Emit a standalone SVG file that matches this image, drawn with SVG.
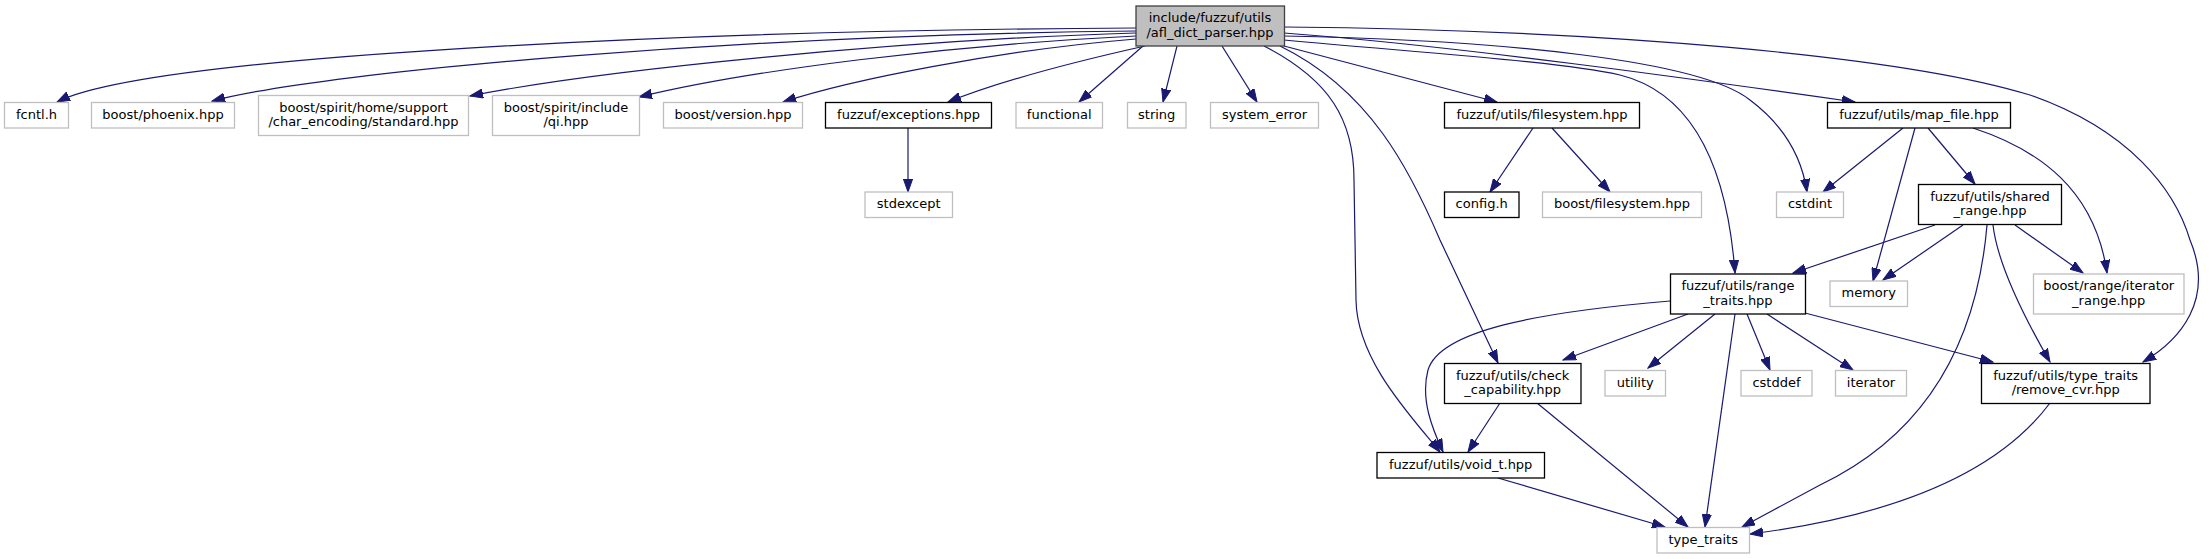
<svg xmlns="http://www.w3.org/2000/svg" width="2209" height="559" viewBox="0 0 2209 559">
<style>
.n rect{fill:#ffffff;stroke:#bfbfbf;stroke-width:1.3}
.n.k rect{stroke:#000000}
.n.root rect{fill:#bfbfbf;stroke:#404040}
text{font-family:"DejaVu Sans","Liberation Sans",sans-serif;font-size:13px;fill:#000;text-anchor:middle}
#edges path{fill:none;stroke:#191970;stroke-width:1.2;marker-end:url(#arr)}
</style>
<defs>
<marker id="arr" markerUnits="userSpaceOnUse" markerWidth="14" markerHeight="10" refX="13" refY="5" orient="auto">
<path d="M0,0.4 L13,5 L0,9.6 z" fill="#191970" stroke="#191970" stroke-width="1"/>
</marker>
</defs>
<rect width="2209" height="559" fill="#ffffff"/>
<g id="edges">
<path d="M1136,28 C700,30 150,55 57,102"/>
<path d="M1136,31 C750,35 330,70 212,101"/>
<path d="M1136,33 C900,40 600,70 470,96"/>
<path d="M1136,36 C950,45 750,70 639,97"/>
<path d="M1136,39 C1000,50 850,80 783,102"/>
<path d="M1145,46 C1060,65 990,85 948,102"/>
<path d="M1143,46 L1079,102"/>
<path d="M1177,46 L1163,102"/>
<path d="M1222,46 L1257,102"/>
<path d="M1264,46 C1330,80 1354,120 1354,180 L1356,300 C1357,360 1410,415 1440,452"/>
<path d="M1280,46 C1370,90 1410,170 1440,240 L1498,363"/>
<path d="M1284,46 L1497,102"/>
<path d="M1284,40 C1450,55 1560,62 1620,75 C1700,95 1728,180 1735,273"/>
<path d="M1284,36 C1500,40 1700,60 1750,100 C1790,130 1803,165 1807,192"/>
<path d="M1284,33 C1450,45 1700,80 1855,102"/>
<path d="M1284,27 C1600,30 1900,55 2030,95 C2130,130 2175,190 2190,240 C2215,300 2180,340 2143,362"/>
<path d="M908,128 L908,192"/>
<path d="M1533,128 L1490,192"/>
<path d="M1552,128 L1610,192"/>
<path d="M1903,128 L1823,192"/>
<path d="M1915,128 L1873,281"/>
<path d="M1928,128 L1975,184"/>
<path d="M1973,128 C2040,150 2095,190 2107,273"/>
<path d="M1935,225 L1793,273"/>
<path d="M1963,225 L1883,280"/>
<path d="M1987,225 C1978,330 1935,430 1820,485 L1742,527"/>
<path d="M1993,225 C1997,260 2020,310 2050,362"/>
<path d="M2015,225 L2083,273"/>
<path d="M1670,301 C1540,312 1440,330 1428,370 C1420,400 1433,430 1443,452"/>
<path d="M1688,314 L1563,360"/>
<path d="M1715,314 L1648,368"/>
<path d="M1735,314 L1705,527"/>
<path d="M1747,314 L1770,370"/>
<path d="M1767,314 L1853,370"/>
<path d="M1805,313 L1993,362"/>
<path d="M1500,403 L1468,452"/>
<path d="M1537,403 L1688,527"/>
<path d="M1498,478 L1665,527"/>
<path d="M2050,403 C2000,470 1900,515 1750,534"/>
</g>
<g id="n_root" class="n root"><rect x="1136" y="6" width="148.5" height="40"/><text x="1210" y="22">include/fuzzuf/utils</text><text x="1210" y="36.7">/afl_dict_parser.hpp</text></g>
<g id="n_fcntl" class="n"><rect x="4.5" y="102.5" width="64" height="25.5"/><text x="36.5" y="118.5">fcntl.h</text></g>
<g id="n_phoenix" class="n"><rect x="91.5" y="102.5" width="143" height="25.5"/><text x="163" y="118.5">boost/phoenix.hpp</text></g>
<g id="n_standard" class="n"><rect x="258.5" y="95.5" width="210" height="40"/><text x="363.5" y="111.5">boost/spirit/home/support</text><text x="363.5" y="126.2">/char_encoding/standard.hpp</text></g>
<g id="n_qi" class="n"><rect x="492.5" y="95.5" width="147" height="40"/><text x="566" y="111.5">boost/spirit/include</text><text x="566" y="126.2">/qi.hpp</text></g>
<g id="n_version" class="n"><rect x="663.5" y="102.5" width="139" height="25.5"/><text x="733" y="118.5">boost/version.hpp</text></g>
<g id="n_exceptions" class="n k"><rect x="825.5" y="102.5" width="166" height="25.5"/><text x="908.5" y="118.5">fuzzuf/exceptions.hpp</text></g>
<g id="n_functional" class="n"><rect x="1016" y="102.5" width="86.5" height="25.5"/><text x="1059.2" y="118.5">functional</text></g>
<g id="n_string" class="n"><rect x="1127.5" y="102.5" width="58.5" height="25.5"/><text x="1156.7" y="118.5">string</text></g>
<g id="n_system_error" class="n"><rect x="1210.5" y="102.5" width="108" height="25.5"/><text x="1264.5" y="118.5">system_error</text></g>
<g id="n_filesystem" class="n k"><rect x="1444.5" y="102.5" width="195" height="25.5"/><text x="1542" y="118.5">fuzzuf/utils/filesystem.hpp</text></g>
<g id="n_map_file" class="n k"><rect x="1827.5" y="102.5" width="183" height="25.5"/><text x="1919" y="118.5">fuzzuf/utils/map_file.hpp</text></g>
<g id="n_stdexcept" class="n"><rect x="865" y="192" width="87.5" height="25.5"/><text x="908.7" y="208">stdexcept</text></g>
<g id="n_config" class="n k"><rect x="1444.5" y="192" width="74.5" height="25.5"/><text x="1481.7" y="208">config.h</text></g>
<g id="n_boost_filesystem" class="n"><rect x="1542.5" y="192" width="159" height="25.5"/><text x="1622" y="208">boost/filesystem.hpp</text></g>
<g id="n_cstdint" class="n"><rect x="1776.5" y="192" width="67" height="25.5"/><text x="1810" y="208">cstdint</text></g>
<g id="n_shared_range" class="n k"><rect x="1918.5" y="184.5" width="143" height="40"/><text x="1990" y="200.5">fuzzuf/utils/shared</text><text x="1990" y="215.2">_range.hpp</text></g>
<g id="n_range_traits" class="n k"><rect x="1670.5" y="274" width="135" height="40"/><text x="1738" y="290">fuzzuf/utils/range</text><text x="1738" y="304.7">_traits.hpp</text></g>
<g id="n_memory" class="n"><rect x="1830" y="281" width="77.5" height="25.5"/><text x="1868.7" y="297">memory</text></g>
<g id="n_iterator_range" class="n"><rect x="2033.5" y="274" width="150.5" height="40"/><text x="2108.7" y="290">boost/range/iterator</text><text x="2108.7" y="304.7">_range.hpp</text></g>
<g id="n_check_capability" class="n k"><rect x="1444.5" y="363.5" width="136.5" height="40"/><text x="1512.7" y="379.5">fuzzuf/utils/check</text><text x="1512.7" y="394.2">_capability.hpp</text></g>
<g id="n_utility" class="n"><rect x="1605" y="370.5" width="60.5" height="25.5"/><text x="1635.2" y="386.5">utility</text></g>
<g id="n_cstddef" class="n"><rect x="1741" y="370.5" width="71" height="25.5"/><text x="1776.5" y="386.5">cstddef</text></g>
<g id="n_iterator" class="n"><rect x="1835.5" y="370.5" width="71" height="25.5"/><text x="1871" y="386.5">iterator</text></g>
<g id="n_remove_cvr" class="n k"><rect x="1981.5" y="363.5" width="168.5" height="40"/><text x="2065.7" y="379.5">fuzzuf/utils/type_traits</text><text x="2065.7" y="394.2">/remove_cvr.hpp</text></g>
<g id="n_void_t" class="n k"><rect x="1377" y="452.5" width="167.5" height="25.5"/><text x="1460.7" y="468.5">fuzzuf/utils/void_t.hpp</text></g>
<g id="n_type_traits" class="n"><rect x="1657" y="527.5" width="92.5" height="25.5"/><text x="1703.2" y="543.5">type_traits</text></g>
</svg>
